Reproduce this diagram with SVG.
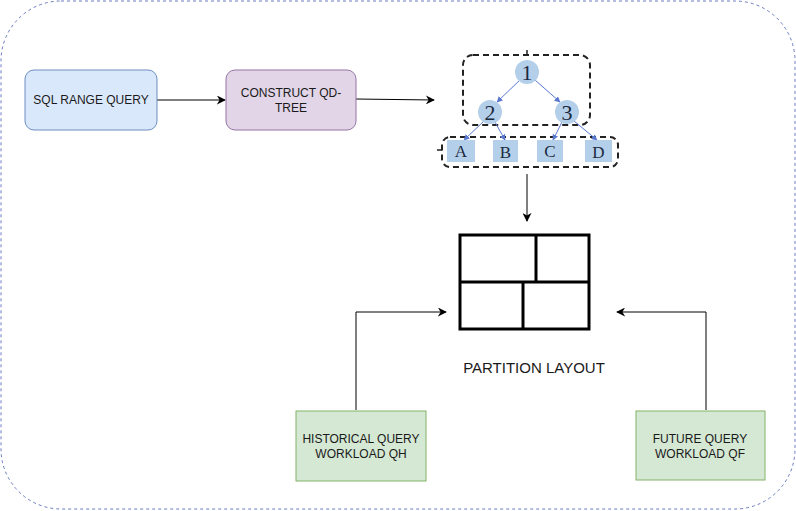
<svg xmlns="http://www.w3.org/2000/svg" width="796" height="511" viewBox="0 0 796 511">
<defs>
<marker id="ah" viewBox="0 0 10 10" refX="9" refY="5" markerWidth="9" markerHeight="9" markerUnits="userSpaceOnUse" orient="auto">
<path d="M0,0 L10,5 L0,10 L3,5 Z" fill="#000"/>
</marker>
<marker id="bh" viewBox="0 0 10 10" refX="9" refY="5" markerWidth="6" markerHeight="6" markerUnits="userSpaceOnUse" orient="auto">
<path d="M0,0 L10,5 L0,10 Z" fill="#5b78d0"/>
</marker>
<style>
.t{font-family:"Liberation Sans",Arial,sans-serif;font-size:12px;fill:#1a1a1a;text-anchor:middle}
.s{font-family:"Liberation Serif","Times New Roman",serif;fill:#1a2a40;text-anchor:middle}
.c{stroke:#000;stroke-width:1;fill:none}
.tb{stroke:#5b78d0;stroke-width:1;fill:none}
.dash{stroke:#222;stroke-width:2;fill:none;stroke-dasharray:6 4}
.n{fill:#b4cfe9}
</style>
</defs>
<rect x="1" y="1" width="794" height="508" rx="60" ry="60" fill="#fff" stroke="#6a7cc0" stroke-width="1" stroke-dasharray="3 3"/>

<g id="connectors">
<line class="c" x1="157" y1="100" x2="225" y2="100" marker-end="url(#ah)"/>
<line class="c" x1="356" y1="99" x2="434" y2="100" marker-end="url(#ah)"/>
<line class="c" x1="527" y1="174" x2="527" y2="221" marker-end="url(#ah)"/>
<polyline class="c" points="356,410 356,312 446,312" marker-end="url(#ah)"/>
<polyline class="c" points="706,410 706,312 617,312" marker-end="url(#ah)"/>
</g>

<g id="sql">
<rect x="25" y="70" width="132" height="60" rx="9" fill="#dae8fc" stroke="#6c8ebf"/>
<text class="t" x="91" y="104">SQL RANGE QUERY</text>
</g>

<g id="construct">
<rect x="226" y="70" width="130" height="60" rx="9" fill="#e1d5e7" stroke="#9673a6"/>
<text class="t" x="291" y="97">CONSTRUCT QD-</text>
<text class="t" x="291" y="112">TREE</text>
</g>

<g id="qdtree">
<rect class="dash" x="463" y="55" width="127" height="70" rx="10"/>
<line x1="527" y1="50" x2="527" y2="55" stroke="#222" stroke-width="1.5"/>
<rect class="dash" x="442" y="137" width="176" height="30" rx="8"/>
<line x1="437" y1="150" x2="442" y2="150" stroke="#222" stroke-width="1.5"/>
<line class="tb" x1="520" y1="80" x2="497" y2="102" marker-end="url(#bh)"/>
<line class="tb" x1="535" y1="80" x2="560" y2="102" marker-end="url(#bh)"/>
<line class="tb" x1="484" y1="121" x2="464" y2="140" marker-end="url(#bh)"/>
<line class="tb" x1="495" y1="122" x2="505" y2="140" marker-end="url(#bh)"/>
<line class="tb" x1="562" y1="122" x2="553" y2="140" marker-end="url(#bh)"/>
<line class="tb" x1="574" y1="121" x2="597" y2="140" marker-end="url(#bh)"/>
<circle class="n" cx="527" cy="72" r="12"/>
<circle class="n" cx="490" cy="112" r="12"/>
<circle class="n" cx="567" cy="112" r="12"/>
<text class="s" x="527" y="80" font-size="22">1</text>
<text class="s" x="490" y="120" font-size="22">2</text>
<text class="s" x="567" y="120" font-size="22">3</text>
<rect class="n" x="447" y="140" width="28" height="22"/>
<rect class="n" x="493" y="140" width="25" height="22"/>
<rect class="n" x="537" y="140" width="26" height="22"/>
<rect class="n" x="585" y="140" width="27" height="22"/>
<text class="s" x="461" y="157" font-size="17">A</text>
<text class="s" x="505.500" y="158" font-size="17">B</text>
<text class="s" x="550" y="157" font-size="17">C</text>
<text class="s" x="598.500" y="158" font-size="17">D</text>
</g>

<g id="partition">
<rect x="460" y="235" width="129" height="94" fill="#fff" stroke="#000" stroke-width="3"/>
<line x1="460" y1="282" x2="589" y2="282" stroke="#000" stroke-width="3"/>
<line x1="536" y1="235" x2="536" y2="282" stroke="#000" stroke-width="3"/>
<line x1="523" y1="282" x2="523" y2="329" stroke="#000" stroke-width="3"/>
<text x="534" y="373" font-family="'Liberation Sans',Arial,sans-serif" font-size="15" fill="#1a1a1a" text-anchor="middle">PARTITION LAYOUT</text>
</g>

<g id="historical">
<rect x="296" y="411" width="130" height="70" fill="#d5e8d4" stroke="#82b366"/>
<text class="t" x="361" y="443">HISTORICAL QUERY</text>
<text class="t" x="361" y="458">WORKLOAD QH</text>
</g>

<g id="future">
<rect x="636" y="411" width="129" height="69" fill="#d5e8d4" stroke="#82b366"/>
<text class="t" x="700" y="443">FUTURE QUERY</text>
<text class="t" x="700" y="458">WORKLOAD QF</text>
</g>
</svg>
